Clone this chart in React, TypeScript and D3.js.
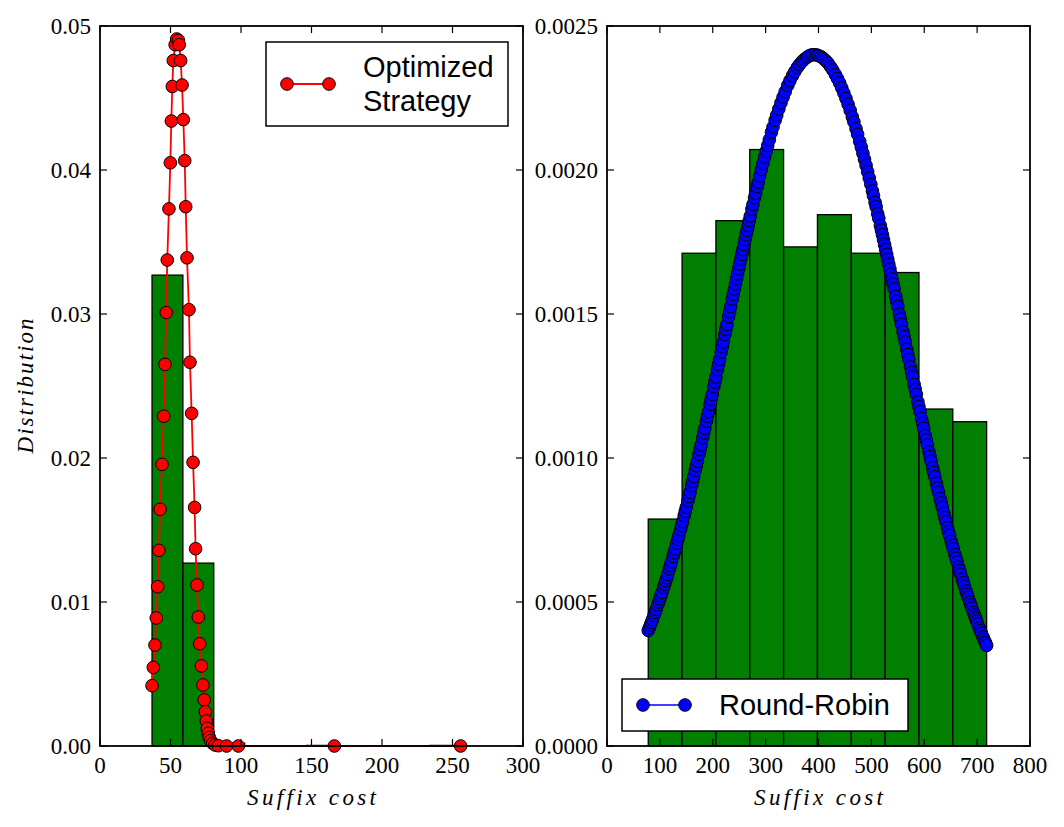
import React from "react";
import * as d3 from "d3";

const W = 1064;
const H = 827;

// Optimized strategy: sorted suffix costs with their fitted density
const optCost = [
  36.9, 37.8, 39.0, 39.9, 40.9, 41.8, 42.6, 44.0, 45.2, 46.1, 47.0, 47.7, 48.9,
  49.9, 50.6, 51.3, 52.0, 53.3, 54.4, 55.6, 56.2, 57.2, 58.2, 59.1, 60.1, 60.8,
  61.7, 63.1, 63.8, 65.0, 66.0, 67.1, 67.8, 68.8, 69.7, 70.7, 71.9, 73.0, 73.9,
  74.7, 75.4, 76.1, 76.8, 77.5, 78.5, 79.9, 81.6, 84.0, 89.8, 98.1, 166.2, 255.8,
];
const optDensity = [
  0.00419, 0.00546, 0.00701, 0.00889, 0.01106, 0.01359, 0.01644, 0.01956, 0.0229,
  0.0265, 0.0301, 0.03375, 0.0373, 0.0405, 0.0434, 0.0458, 0.0476, 0.0487, 0.0491,
  0.049, 0.0487, 0.0476, 0.0459, 0.0435, 0.04065, 0.03745, 0.0339, 0.0303, 0.02665,
  0.0231, 0.0197, 0.01657, 0.0137, 0.01118, 0.00896, 0.0071, 0.00556, 0.00424,
  0.0032, 0.00238, 0.00174, 0.00123, 0.00088, 0.0006, 0.00037, 0.00019, 0.00007,
  0.00002, 0, 0, 0, 0,
];
// normalised histogram of the same costs, 10 equal bins over the cost range
const optHist = [0.0327, 0.0127, 0.0002, 0, 0, 0.00004, 0, 0, 0, 0.00004];

// Round-robin: sorted suffix costs with their fitted density
const rrCost = [
  78, 80, 82, 84, 86, 89, 91, 93, 96, 98, 100, 102, 104, 107, 109, 111, 113, 115,
  118, 120, 122, 125, 127, 129, 132, 134, 136, 139, 141, 143, 146, 148, 150, 153,
  155, 157, 160, 162, 164, 167, 169, 171, 174, 176, 178, 181, 183, 185, 188, 190,
  192, 195, 197, 199, 202, 204, 206, 209, 211, 213, 216, 218, 220, 223, 225, 227,
  230, 232, 234, 237, 239, 241, 243, 245, 247, 249, 251, 253, 255, 257, 259, 261,
  263, 265, 267, 269, 271, 274, 276, 279, 281, 284, 286, 289, 292, 295, 298, 301,
  304, 307, 311, 314, 318, 321, 325, 329, 333, 337, 342, 346, 351, 355, 360, 364,
  369, 373, 378, 382, 387, 391, 396, 400, 405, 409, 414, 418, 423, 427, 432, 436,
  440, 444, 448, 452, 456, 460, 464, 467, 471, 474, 478, 481, 484, 487, 490, 493,
  496, 499, 502, 504, 507, 509, 512, 514, 517, 519, 521, 523, 525, 527, 529, 531,
  533, 535, 537, 539, 541, 543, 546, 548, 550, 553, 555, 557, 560, 562, 564, 567,
  569, 571, 574, 576, 578, 581, 583, 585, 588, 590, 592, 595, 597, 599, 602, 604,
  606, 609, 611, 613, 616, 618, 620, 623, 625, 627, 630, 632, 634, 637, 639, 641,
  644, 646, 648, 651, 653, 655, 658, 660, 662, 665, 667, 669, 672, 674, 676, 679,
  681, 683, 686, 688, 690, 693, 695, 697, 699, 701, 704, 706, 708, 711, 713, 715,
  716, 718,
];
const rrDensity = [
  0.000401, 0.00041, 0.00042, 0.000429, 0.000439, 0.000454, 0.000464, 0.000474,
  0.00049, 0.0005, 0.000511, 0.000522, 0.000533, 0.00055, 0.000561, 0.000573,
  0.000584, 0.000596, 0.000615, 0.000627, 0.000639, 0.000658, 0.000671, 0.000684,
  0.000704, 0.000717, 0.000731, 0.000751, 0.000765, 0.000779, 0.0008, 0.000815,
  0.000829, 0.000851, 0.000866, 0.000881, 0.000904, 0.000919, 0.000935, 0.000958,
  0.000973, 0.000989, 0.001013, 0.001029, 0.001045, 0.00107, 0.001087, 0.001103,
  0.001128, 0.001145, 0.001161, 0.001187, 0.001204, 0.001221, 0.001247, 0.001264,
  0.001281, 0.001307, 0.001325, 0.001342, 0.001368, 0.001386, 0.001403, 0.001429,
  0.001447, 0.001464, 0.001491, 0.001508, 0.001526, 0.001552, 0.001569, 0.001587,
  0.001604, 0.001622, 0.001639, 0.001656, 0.001673, 0.00169, 0.001707, 0.001724,
  0.001741, 0.001758, 0.001775, 0.001791, 0.001807, 0.001824, 0.00184, 0.001864,
  0.00188, 0.001904, 0.001919, 0.001942, 0.001957, 0.00198, 0.002002, 0.002023,
  0.002045, 0.002065, 0.002085, 0.002105, 0.002131, 0.002149, 0.002173, 0.00219,
  0.002212, 0.002233, 0.002253, 0.002272, 0.002294, 0.00231, 0.002328, 0.002341,
  0.002356, 0.002366, 0.002377, 0.002384, 0.002391, 0.002396, 0.0024, 0.0024,
  0.0024, 0.002397, 0.002393, 0.002387, 0.002379, 0.002371, 0.002358, 0.002347,
  0.002331, 0.002317, 0.002302, 0.002285, 0.002267, 0.002248, 0.002228, 0.002207,
  0.002184, 0.002167, 0.002143, 0.002124, 0.002099, 0.002079, 0.002058, 0.002037,
  0.002016, 0.001994, 0.001972, 0.00195, 0.001927, 0.001911, 0.001888, 0.001872,
  0.001848, 0.001832, 0.001807, 0.001791, 0.001775, 0.001758, 0.001741, 0.001724,
  0.001707, 0.00169, 0.001673, 0.001656, 0.001639, 0.001622, 0.001604, 0.001587,
  0.001561, 0.001543, 0.001526, 0.0015, 0.001482, 0.001464, 0.001438, 0.001421,
  0.001403, 0.001377, 0.001359, 0.001342, 0.001316, 0.001298, 0.001281, 0.001255,
  0.001238, 0.001221, 0.001195, 0.001178, 0.001161, 0.001136, 0.00112, 0.001103,
  0.001078, 0.001062, 0.001045, 0.001021, 0.001005, 0.000989, 0.000966, 0.00095,
  0.000935, 0.000912, 0.000896, 0.000881, 0.000859, 0.000844, 0.000829, 0.000808,
  0.000793, 0.000779, 0.000758, 0.000744, 0.000731, 0.00071, 0.000697, 0.000684,
  0.000665, 0.000652, 0.000639, 0.000621, 0.000609, 0.000596, 0.000579, 0.000567,
  0.000555, 0.000538, 0.000527, 0.000516, 0.0005, 0.00049, 0.000479, 0.000464,
  0.000454, 0.000444, 0.000434, 0.000424, 0.00041, 0.000401, 0.000392, 0.000379,
  0.00037, 0.000361, 0.000357, 0.000349,
];
const rrHist = [
  0.000788, 0.001711, 0.001824, 0.002071, 0.001733, 0.001845, 0.001711, 0.001644,
  0.00117, 0.001126,
];

const optXTicks = [0, 50, 100, 150, 200, 250, 300];
const optYTicks = [0, 0.01, 0.02, 0.03, 0.04, 0.05];
const rrXTicks = [0, 100, 200, 300, 400, 500, 600, 700, 800];
const rrYTicks = [0, 0.0005, 0.001, 0.0015, 0.002, 0.0025];

const SERIF = "'Liberation Serif', 'DejaVu Serif', serif";
const SANS = "'Liberation Sans', Arial, sans-serif";
const TICK = 7;

type LegendProps = {
  x: number;
  y: number;
  w: number;
  h: number;
  lines: string[];
  color: string;
  lineWidth: number;
};

type PanelProps = {
  left: number;
  right: number;
  top: number;
  bottom: number;
  xDomain: [number, number];
  yDomain: [number, number];
  xTicks: number[];
  yTicks: number[];
  yFormat: (v: number) => string;
  cost: number[];
  density: number[];
  hist: number[];
  color: string;
  lineWidth: number;
  legend: LegendProps;
  yLabel?: string;
};

const Legend = ({ x, y, w, h, lines, color, lineWidth }: LegendProps) => {
  const my = y + h / 2;
  const firstBase = my + 10 - ((lines.length - 1) * 34) / 2;
  return (
    <g>
      <rect x={x} y={y} width={w} height={h} fill="white" stroke="black" strokeWidth={1.5} />
      <line x1={x + 21} x2={x + 63} y1={my} y2={my} stroke={color} strokeWidth={lineWidth} />
      <circle cx={x + 21} cy={my} r={6.3} fill={color} stroke="black" strokeWidth={1} />
      <circle cx={x + 63} cy={my} r={6.3} fill={color} stroke="black" strokeWidth={1} />
      {lines.map((t, i) => (
        <text key={t} x={x + 97} y={firstBase + i * 34} fontFamily={SANS} fontSize={29}>
          {t}
        </text>
      ))}
    </g>
  );
};

const Panel = (p: PanelProps) => {
  const x = d3.scaleLinear().domain(p.xDomain).range([p.left, p.right]);
  const y = d3.scaleLinear().domain(p.yDomain).range([p.bottom, p.top]);

  const [lo, hi] = d3.extent(p.cost) as [number, number];
  const step = (hi - lo) / p.hist.length;
  const bins = p.hist.map((v, i) => ({ x0: lo + i * step, x1: lo + (i + 1) * step, v }));

  const pts = p.cost.map((c, i) => [c, p.density[i]] as [number, number]);
  const line = d3
    .line<[number, number]>()
    .x((d) => x(d[0]))
    .y((d) => y(d[1]));

  const cx = (p.left + p.right) / 2;

  return (
    <g>
      {bins.map((b, i) => (
        <rect
          key={i}
          x={x(b.x0)}
          y={y(b.v)}
          width={x(b.x1) - x(b.x0)}
          height={y(0) - y(b.v)}
          fill="#007f00"
          stroke="black"
          strokeWidth={1.3}
        />
      ))}
      <path d={line(pts) || ""} fill="none" stroke={p.color} strokeWidth={p.lineWidth} />
      {pts.map((d, i) => (
        <circle key={i} cx={x(d[0])} cy={y(d[1])} r={6.3} fill={p.color} stroke="black" strokeWidth={1} />
      ))}

      {/* frame and inward ticks on all four sides */}
      <rect
        x={p.left}
        y={p.top}
        width={p.right - p.left}
        height={p.bottom - p.top}
        fill="none"
        stroke="black"
        strokeWidth={1.8}
      />
      {p.xTicks.map((t) => (
        <g key={"x" + t}>
          <line x1={x(t)} x2={x(t)} y1={p.bottom} y2={p.bottom - TICK} stroke="black" strokeWidth={1.2} />
          <line x1={x(t)} x2={x(t)} y1={p.top} y2={p.top + TICK} stroke="black" strokeWidth={1.2} />
          <text x={x(t)} y={p.bottom + 27} textAnchor="middle" fontFamily={SERIF} fontSize={23}>
            {t}
          </text>
        </g>
      ))}
      {p.yTicks.map((t) => (
        <g key={"y" + t}>
          <line x1={p.left} x2={p.left + TICK} y1={y(t)} y2={y(t)} stroke="black" strokeWidth={1.2} />
          <line x1={p.right} x2={p.right - TICK} y1={y(t)} y2={y(t)} stroke="black" strokeWidth={1.2} />
          <text x={p.left - 9} y={y(t) + 8} textAnchor="end" fontFamily={SERIF} fontSize={23}>
            {p.yFormat(t)}
          </text>
        </g>
      ))}

      <text
        x={cx}
        y={805}
        textAnchor="middle"
        fontFamily={SERIF}
        fontStyle="italic"
        fontSize={23}
        textLength={129}
        lengthAdjust="spacing"
      >
        Suffix cost
      </text>
      {p.yLabel && (
        <text
          transform={`translate(33 ${(p.top + p.bottom) / 2}) rotate(-90)`}
          textAnchor="middle"
          fontFamily={SERIF}
          fontStyle="italic"
          fontSize={23}
          textLength={135}
          lengthAdjust="spacing"
        >
          {p.yLabel}
        </text>
      )}

      <Legend {...p.legend} />
    </g>
  );
};

export default function App() {
  return (
    <svg
      width={W}
      height={H}
      style={{ position: "absolute", left: 0, top: 0, background: "white" }}
    >
      <rect width={W} height={H} fill="white" />
      <Panel
        left={100}
        right={523}
        top={26}
        bottom={746}
        xDomain={[0, 300]}
        yDomain={[0, 0.05]}
        xTicks={optXTicks}
        yTicks={optYTicks}
        yFormat={d3.format(".2f")}
        cost={optCost}
        density={optDensity}
        hist={optHist}
        color="#ff0000"
        lineWidth={1.8}
        yLabel="Distribution"
        legend={{
          x: 266,
          y: 42,
          w: 242,
          h: 84,
          lines: ["Optimized", "Strategy"],
          color: "#ff0000",
          lineWidth: 2,
        }}
      />
      <Panel
        left={607}
        right={1030}
        top={26}
        bottom={746}
        xDomain={[0, 800]}
        yDomain={[0, 0.0025]}
        xTicks={rrXTicks}
        yTicks={rrYTicks}
        yFormat={d3.format(".4f")}
        cost={rrCost}
        density={rrDensity}
        hist={rrHist}
        color="#0000ff"
        lineWidth={1.5}
        legend={{
          x: 622,
          y: 679,
          w: 286,
          h: 52,
          lines: ["Round-Robin"],
          color: "#0000ff",
          lineWidth: 1.5,
        }}
      />
    </svg>
  );
}
